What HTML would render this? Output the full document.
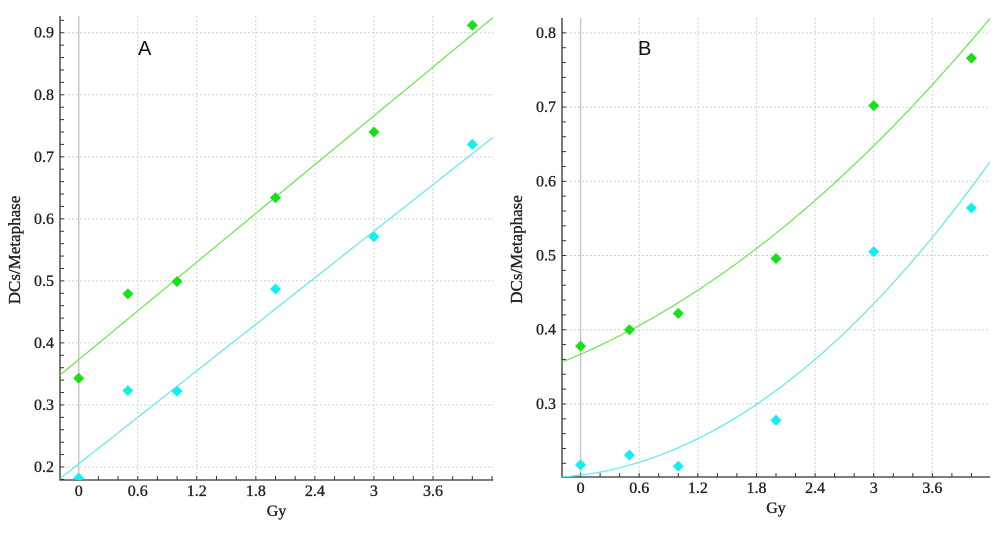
<!DOCTYPE html>
<html><head><meta charset="utf-8"><style>
html,body{margin:0;padding:0;background:#fff;}
svg{display:block;}
</style></head><body>
<svg id="chart" width="1000" height="537" xmlns="http://www.w3.org/2000/svg"></svg>
<script>
// Panel A data
const doses = [0, 0.5, 1, 2, 3, 4];
const aGreen = [0.343, 0.479, 0.499, 0.634, 0.740, 0.912];
const aCyan = [0.182, 0.323, 0.322, 0.487, 0.571, 0.720];
const aGreenFit = [0.373, 0.131];          // intercept, slope
const aCyanFit = [0.205, 0.125];
// Panel B data
const bGreen = [0.378, 0.400, 0.422, 0.496, 0.702, 0.766];
const bCyan = [0.218, 0.231, 0.216, 0.278, 0.505, 0.564];
const bGreenFit = [0.367, 0.0573, 0.0121]; // a, b, c (quadratic)
const bCyanFit = [0.204, 0.017, 0.020];
const xTicks = [0, 0.6, 1.2, 1.8, 2.4, 3, 3.6];
const xTickLabels = ["0", "0.6", "1.2", "1.8", "2.4", "3", "3.6"];
const aYTicks = [0.2, 0.3, 0.4, 0.5, 0.6, 0.7, 0.8, 0.9];
const bYTicks = [0.3, 0.4, 0.5, 0.6, 0.7, 0.8];

const NS = "http://www.w3.org/2000/svg";
const svg = document.getElementById("chart");
function mk(tag, attrs, parent) {
  const e = document.createElementNS(NS, tag);
  for (const k in attrs) e.setAttribute(k, attrs[k]);
  (parent || svg).appendChild(e);
  return e;
}
const TXT = {"font-family": "Liberation Serif, serif", "font-size": 16, fill: "#222", stroke: "#222", "stroke-width": 0.35};
function txt(attrs, parent) { return mk("text", Object.assign({}, TXT, attrs), parent); }

function panel(cfg) {
  const g = mk("g", {});
  
  
  const {L, R, T, B, x0, x1, y0, y1} = cfg;
  const sx = v => L + (v - x0) / (x1 - x0) * (R - L);
  const sy = v => B - (v - y0) / (y1 - y0) * (B - T);
  xTicks.forEach(v => {
    const l = mk("line", {x1: sx(v), x2: sx(v), y1: T, y2: B, stroke: "#d0d0d0", "stroke-dasharray": "2,2"}, g);
    
    
  });
  cfg.yTicks.forEach(v => {
    const l = mk("line", {x1: L, x2: R, y1: sy(v), y2: sy(v), stroke: "#d0d0d0", "stroke-dasharray": "2,2"}, g);
    
    
  });
  const z = mk("line", {x1: sx(0), x2: sx(0), y1: T, y2: B, stroke: "#c8c8c8", "stroke-width": 1.5}, g);
  
  
  const ax = mk("path", {d: `M${L},${T} V${B} H${R}`, fill: "none", stroke: "#333", "stroke-width": 1.3}, g);
  
  
  for (let v = Math.ceil(x0 / 0.2) * 0.2; v <= x1; v += 0.2) {
    mk("line", {x1: sx(v), x2: sx(v), y1: B, y2: B - 4, stroke: "#333"}, g);
  }
  for (let v = Math.ceil(y0 / 0.02) * 0.02; v <= y1; v += 0.02) {
    mk("line", {x1: L, x2: L + 4, y1: sy(v), y2: sy(v), stroke: "#333"}, g);
  }
  xTicks.forEach((v, i) => {
    const t = txt({x: sx(v), y: B + 16, "text-anchor": "middle"}, g);
    t.textContent = xTickLabels[i];
    
    
  });
  cfg.yTicks.forEach(v => {
    const t = txt({x: L - 6, y: sy(v) + 5, "text-anchor": "end"}, g);
    t.textContent = v.toFixed(1);
    
    
  });
  const xt = txt({x: (L + R) / 2, y: B + 36, "text-anchor": "middle"}, g);
  xt.textContent = "Gy";
  
  
  const yx = L - 40, yy = (T + B) / 2 + 2;
  const yt = txt({x: yx, y: yy, transform: `rotate(-90 ${yx} ${yy})`, "text-anchor": "middle", "font-size": 17}, g);
  yt.textContent = "DCs/Metaphase";
  
  
  const lab = mk("text", {x: cfg.labelX, y: 55, "font-family": "Liberation Sans, sans-serif", "font-size": 20, fill: "#111"}, g);
  lab.textContent = cfg.label;
  
  
  const cid = "clip" + cfg.label;
  const cp = mk("clipPath", {id: cid}, g);
  mk("rect", {x: L, y: T, width: R - L, height: B - T}, cp);
  const plot = mk("g", {"clip-path": `url(#${cid})`}, g);
  cfg.fits.forEach(f => {
    let d = "";
    for (let i = 0; i <= 100; i++) {
      const x = x0 + (x1 - x0) * i / 100;
      let y = 0;
      f.coef.forEach((c, k) => { y += c * Math.pow(x, k); });
      d += (i ? "L" : "M") + sx(x).toFixed(1) + "," + sy(y).toFixed(1);
    }
    const p = mk("path", {d, fill: "none", stroke: f.color, "stroke-width": 1.2}, plot);
    
    
  });
  cfg.series.forEach(s => {
    s.vals.forEach((v, i) => {
      const cx = sx(doses[i]), cy = sy(v), r = 5.5;
      const p = mk("polygon", {points: `${cx},${cy - r} ${cx + r},${cy} ${cx},${cy + r} ${cx - r},${cy}`, fill: s.color}, plot);
      
      
    });
  });
}

panel({name: "panel-a", label: "A", labelX: 138, L: 60, R: 493, T: 16, B: 480, x0: -0.19, x1: 4.21, y0: 0.179, y1: 0.927, yTicks: aYTicks,
  fits: [{name: "green", color: "#66e84a", coef: aGreenFit}, {name: "cyan", color: "#5ee8f0", coef: aCyanFit}],
  series: [{name: "green", color: "#16e016", vals: aGreen}, {name: "cyan", color: "#10f0f0", vals: aCyan}]});
panel({name: "panel-b", label: "B", labelX: 638, L: 562, R: 990, T: 18, B: 477, x0: -0.19, x1: 4.19, y0: 0.2016, y1: 0.82, yTicks: bYTicks,
  fits: [{name: "green", color: "#66e84a", coef: bGreenFit}, {name: "cyan", color: "#5ee8f0", coef: bCyanFit}],
  series: [{name: "green", color: "#16e016", vals: bGreen}, {name: "cyan", color: "#10f0f0", vals: bCyan}]});
</script>
</body></html>
